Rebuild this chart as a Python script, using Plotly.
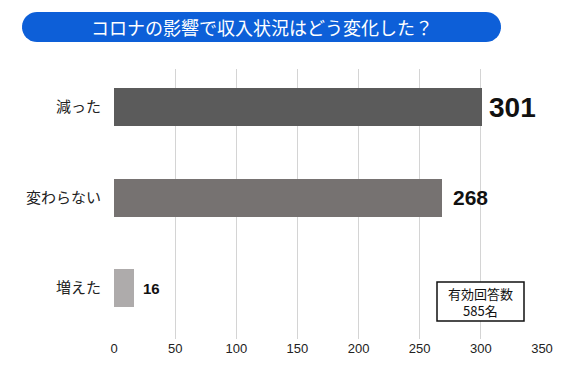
import plotly.graph_objects as go
import numpy as np

categories = ["減った", "変わらない", "増えた"]
values = [301, 268, 16]
bar_colors = ["#5b5b5b", "#767271", "#aeabab"]
label_sizes = [28, 21, 15]
label_shifts = [5, 9, 7]
x_ticks = [0, 50, 100, 150, 200, 250, 300, 350]
title_text = "コロナの影響で収入状況はどう変化した？"
note_lines = ["有効回答数", "585名"]

W, H = 566, 378
L, R, T, B = 114, 24, 69, 39
pw, ph = W - L - R, H - T - B

def px2paper(x, y):
    return (x - L) / pw, (H - B - y) / ph

fig = go.Figure()
fig.add_trace(go.Bar(
    y=categories, x=values, orientation="h",
    marker=dict(color=bar_colors, line=dict(width=0)),
    width=0.42, hoverinfo="skip",
))

for c, v, s, sh in zip(categories, values, label_sizes, label_shifts):
    fig.add_annotation(x=v, y=c, text=f"<b>{v}</b>", showarrow=False,
                       xanchor="left", yanchor="middle", xshift=sh,
                       font=dict(family="Liberation Sans, Arial", size=s, color="#111111"))

# rounded title pill
x0, x1, y0, y1, r = 22, 501, 12, 42, 15
pts = []
for a in np.linspace(np.pi / 2, 3 * np.pi / 2, 20):
    pts.append((x0 + r + r * np.cos(a), (y0 + y1) / 2 - r * np.sin(a)))
for a in np.linspace(-np.pi / 2, np.pi / 2, 20):
    pts.append((x1 - r + r * np.cos(a), (y0 + y1) / 2 - r * np.sin(a)))
path = "M " + " L ".join(f"{px2paper(x, y)[0]:.5f},{px2paper(x, y)[1]:.5f}" for x, y in pts) + " Z"
fig.add_shape(type="path", path=path, xref="paper", yref="paper",
              fillcolor="#0d5fd8", line=dict(width=0), layer="above")
tx, ty = px2paper((x0 + x1) / 2, (y0 + y1) / 2)
fig.add_annotation(x=tx, y=ty, xref="paper", yref="paper", text=title_text, showarrow=False,
                   xanchor="center", yanchor="middle",
                   font=dict(family="Noto Sans CJK JP", size=18, color="white"))

# note box
bx0, by0 = px2paper(437, 282)
bx1, by1 = px2paper(524, 321)
fig.add_shape(type="rect", xref="paper", yref="paper", x0=bx0, x1=bx1, y0=by1, y1=by0,
              fillcolor="white", line=dict(color="#111111", width=1.5), layer="above")
for line, ly in zip(note_lines, [293, 310]):
    nx, ny = px2paper((437 + 524) / 2, ly)
    fig.add_annotation(x=nx, y=ny, xref="paper", yref="paper", text=line, showarrow=False,
                       xanchor="center", yanchor="middle",
                       font=dict(family="Noto Sans CJK JP", size=13, color="#111111"))

top_off = 38 / 90.5
bot_off = 51 / 90.5
fig.update_layout(
    width=W, height=H,
    margin=dict(l=L, r=R, t=T, b=B),
    paper_bgcolor="white", plot_bgcolor="white",
    showlegend=False,
    bargap=0,
    xaxis=dict(range=[0, 350], tickvals=x_ticks, showgrid=True, gridcolor="#d4d4d4", gridwidth=1,
               zeroline=False, showline=False, ticks="", ticklen=0,
               tickfont=dict(family="Liberation Sans, Arial", size=13, color="#222222")),
    yaxis=dict(type="category", categoryorder="array", categoryarray=categories,
               range=[2 + bot_off, -top_off], showgrid=False, zeroline=False, showline=False,
               ticks="", ticklabelstandoff=12,
               tickfont=dict(family="Noto Sans CJK JP", size=15, color="#222222")),
)
fig.write_html("out.html", config={"displayModeBar": False},
               post_script="document.body.style.margin='0px';document.body.style.overflow='hidden';")
